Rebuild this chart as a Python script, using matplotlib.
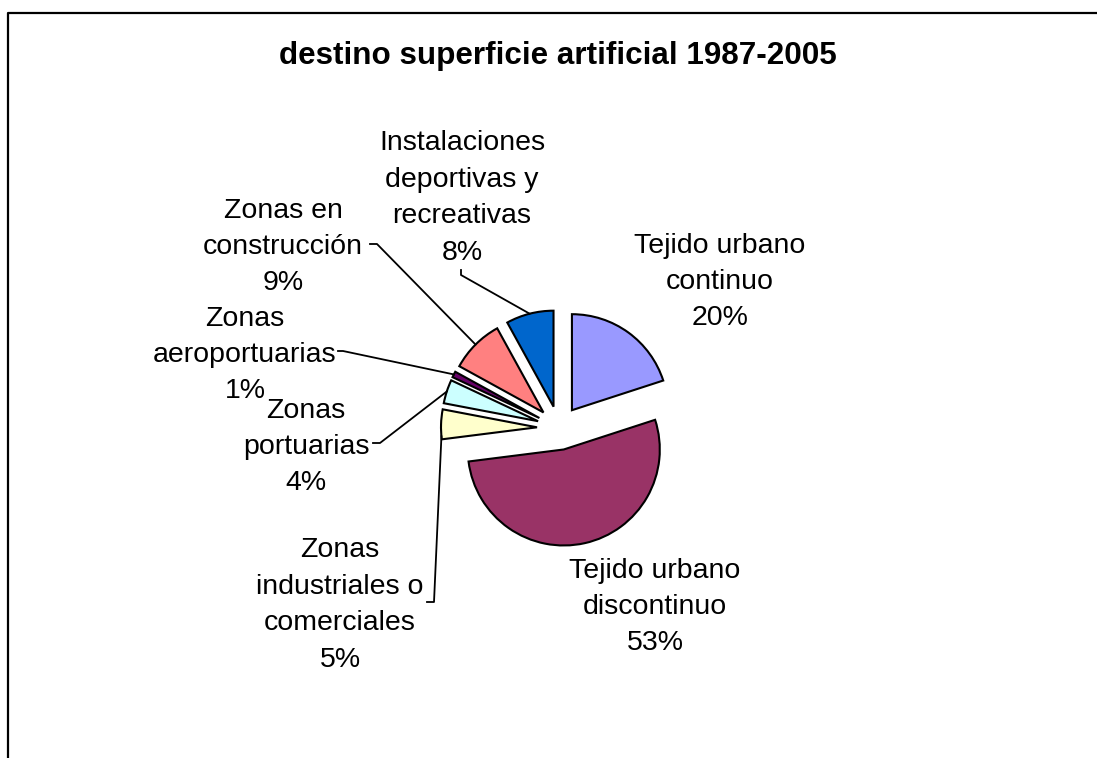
import matplotlib.pyplot as plt
import numpy as np

plt.rcParams['font.family'] = ['Liberation Sans', 'DejaVu Sans']

# datos
titulo = "destino superficie artificial 1987-2005"
categorias = ["Tejido urbano\ncontinuo",
              "Tejido urbano\ndiscontinuo",
              "Zonas\nindustriales o\ncomerciales",
              "Zonas\nportuarias",
              "Zonas\naeroportuarias",
              "Zonas en\nconstrucción",
              "Instalaciones\ndeportivas y\nrecreativas"]
porcentajes = [20, 53, 5, 4, 1, 9, 8]
colores = ["#9999FF", "#993366", "#FFFFCC", "#CCFFFF", "#660066", "#FF8080", "#0066CC"]

W, H = 1097, 758
fig = plt.figure(figsize=(W / 100, H / 100), dpi=100)
ax = fig.add_axes([0, 0, 1, 1])


def px(x, y):
    # pixel coords of the picture (y down) -> data coords (y up)
    return x, H - y


wedges, _ = ax.pie(porcentajes, colors=colores, startangle=90, counterclock=False,
                   explode=[22] * len(porcentajes), radius=96, center=px(559, 428),
                   wedgeprops=dict(edgecolor="black", linewidth=1.5))
ax.set_xlim(0, W)
ax.set_ylim(0, H)
ax.set_aspect("equal")
ax.axis("off")

# etiquetas
pos_etiquetas = [(720, 282), (655, 607), (340, 605), (306, 447),
                 (245, 355), (283, 247), (462, 198)]
for cat, p, (x, y) in zip(categorias, porcentajes, pos_etiquetas):
    ax.text(*px(x, y), f"{cat}\n{p}%", ha="center", va="center",
            fontsize=20.5, linespacing=1.52, multialignment="center")

# lineas guia: inicio, codo, fraccion sobre el arco
guias = {2: ((427, 602), (434, 602), 0.9),
         3: ((373, 443), (380, 443), 0.5),
         4: ((338, 351), (343, 351), 0.5),
         5: ((370, 244), (377, 244), 0.5),
         6: ((461, 270), (461, 275), 0.5)}
for i, (p0, p1, f) in guias.items():
    w = wedges[i]
    a = np.deg2rad(w.theta1 + f * (w.theta2 - w.theta1))
    cx, cy = w.center
    ex, ey = cx + w.r * np.cos(a), cy + w.r * np.sin(a)
    x0, y0 = px(*p0)
    x1, y1 = px(*p1)
    ax.plot([x0, x1, ex], [y0, y1, ey], color="black", lw=1.3)

ax.text(*px(558, 56), titulo, ha="center", va="center", fontsize=22.6, fontweight="bold")

# marco
ax.plot([7.5, 7.5, W], [0, H - 12.5, H - 12.5], color="black", lw=1.6, clip_on=False)

fig.savefig("out.png", dpi=100)
